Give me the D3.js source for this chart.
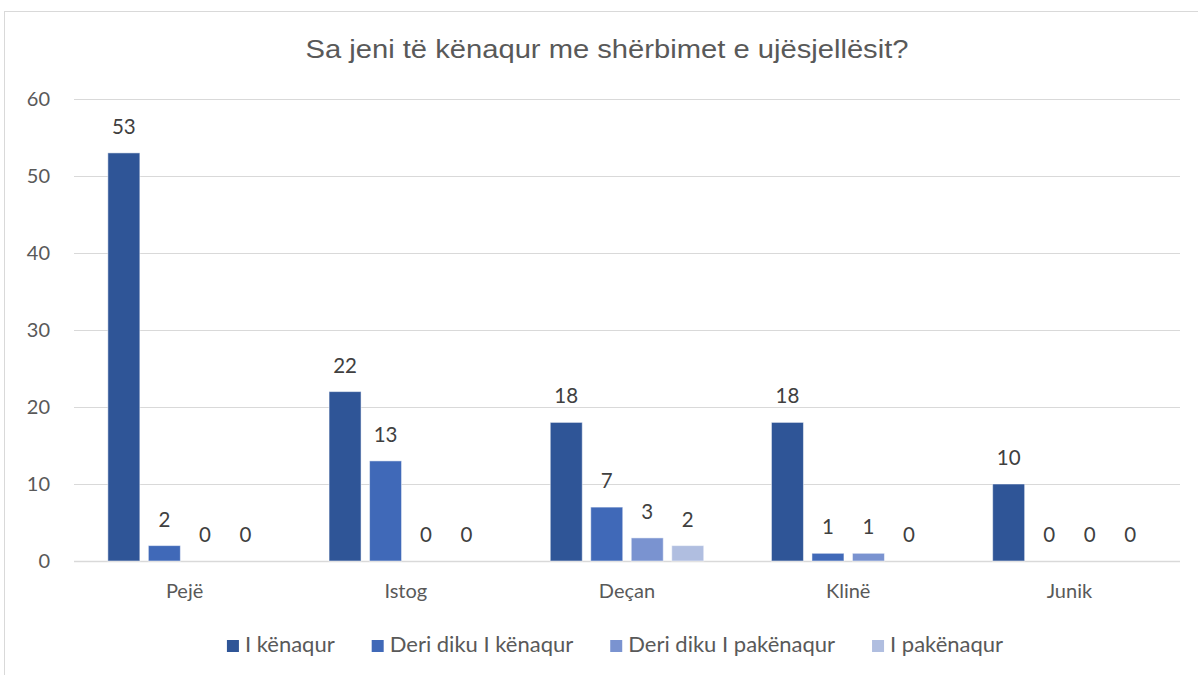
<!DOCTYPE html>
<html>
<head>
<meta charset="utf-8">
<script src="https://cdn.jsdelivr.net/npm/d3@7"></script>
<style>
  html, body { margin: 0; padding: 0; background: #fff; }
  svg { display: block; }
</style>
</head>
<body>
<svg id="chart" width="1198" height="675"></svg>
<script>
// Chart data
const title = 'Sa jeni të kënaqur me shërbimet e ujësjellësit?';
const cities = ['Pejë', 'Istog', 'Deçan', 'Klinë', 'Junik'];
const seriesNames = ['I kënaqur', 'Deri diku I kënaqur', 'Deri diku I pakënaqur', 'I pakënaqur'];
const satisfied = [53, 22, 18, 18, 10];
const somewhatSatisfied = [2, 13, 7, 1, 0];
const somewhatUnsatisfied = [0, 0, 3, 1, 0];
const unsatisfied = [0, 0, 2, 0, 0];
const yTicks = [0, 10, 20, 30, 40, 50, 60];
const colors = ['#2F5597', '#4069B8', '#7A93D0', '#B0BEE0'];

const seriesValues = [satisfied, somewhatSatisfied, somewhatUnsatisfied, unsatisfied];
const labelFont = 'Lato, "Open Sans", sans-serif';

const svg = d3.select('#chart');
const plot = { left: 74, right: 1180, top: 99, bottom: 561 };

// Chart area border
svg.append('rect')
  .attr('x', 4.5).attr('y', 11.5)
  .attr('width', 1300).attr('height', 800)
  .attr('fill', 'none')
  .attr('stroke', '#d9d9d9')
  .attr('stroke-width', 1);

// Title (stretched a bit to match the wide original)
svg.append('text')
  .attr('x', 607).attr('y', 58)
  .attr('text-anchor', 'middle')
  .attr('fill', '#595959')
  .attr('textLength', 603)
  .attr('lengthAdjust', 'spacingAndGlyphs')
  .style('font-family', '"Liberation Sans", Arial, sans-serif')
  .style('font-size', '26.5px')
  .text(title);

// Scales
const yScale = d3.scaleLinear()
  .domain([0, 60])
  .range([plot.bottom, plot.top]);

const x0 = d3.scaleBand()
  .domain(cities)
  .range([plot.left, plot.right])
  .padding(0);

const x1 = d3.scaleBand()
  .domain(d3.range(seriesNames.length))
  .range([0, x0.bandwidth()])
  .paddingInner(0.21)
  .paddingOuter(0.836);

// Gridlines
svg.append('g')
  .selectAll('line')
  .data(yTicks)
  .enter()
  .append('line')
    .attr('x1', plot.left)
    .attr('x2', plot.right)
    .attr('y1', (d) => Math.round(yScale(d)) + 0.5)
    .attr('y2', (d) => Math.round(yScale(d)) + 0.5)
    .attr('stroke', '#d9d9d9')
    .attr('stroke-width', (d) => d === 0 ? 1.5 : 1.2);

// Y axis labels
svg.append('g')
  .selectAll('text')
  .data(yTicks)
  .enter()
  .append('text')
    .attr('x', 50)
    .attr('y', (d) => yScale(d))
    .attr('dy', '0.36em')
    .attr('text-anchor', 'end')
    .attr('fill', '#595959')
    .style('font-family', labelFont)
    .style('font-size', '20px')
    .text((d) => d);

// X axis labels
svg.append('g')
  .selectAll('text')
  .data(cities)
  .enter()
  .append('text')
    .attr('x', (d) => x0(d) + x0.bandwidth() / 2)
    .attr('y', 598)
    .attr('text-anchor', 'middle')
    .attr('fill', '#595959')
    .style('font-family', labelFont)
    .style('font-size', '20px')
    .text((d) => d);

// Bars and data labels
const flat = [];
seriesValues.forEach((vals, s) => {
  vals.forEach((v, c) => flat.push({ s: s, city: cities[c], v: v }));
});

svg.append('g')
  .selectAll('rect')
  .data(flat.filter((d) => d.v > 0))
  .enter()
  .append('rect')
    .attr('x', (d) => x0(d.city) + x1(d.s))
    .attr('y', (d) => yScale(d.v))
    .attr('width', x1.bandwidth())
    .attr('height', (d) => yScale(0) - yScale(d.v))
    .attr('fill', (d) => colors[d.s])
    .attr('stroke', '#ffffff')
    .attr('stroke-opacity', 0.5)
    .attr('stroke-width', 1);

svg.append('g')
  .selectAll('text')
  .data(flat)
  .enter()
  .append('text')
    .attr('x', (d) => x0(d.city) + x1(d.s) + x1.bandwidth() / 2)
    .attr('y', (d) => yScale(d.v) - 19)
    .attr('text-anchor', 'middle')
    .attr('fill', '#404040')
    .style('font-family', labelFont)
    .style('font-size', '20.5px')
    .text((d) => d.v);

// Legend
const legend = svg.append('g');
const items = legend.selectAll('g')
  .data(seriesNames)
  .enter()
  .append('g');
items.append('rect')
  .attr('width', 12).attr('height', 12)
  .attr('y', 640)
  .attr('fill', (d, i) => colors[i]);
items.append('text')
  .attr('x', 18)
  .attr('y', 652)
  .attr('fill', '#595959')
  .style('font-family', labelFont)
  .style('font-size', '22px')
  .text((d) => d);

const gap = 37;
let offset = 0;
const positions = [];
items.each(function () {
  const w = d3.select(this).select('text').node().getComputedTextLength();
  positions.push(offset);
  offset += 18 + w + gap;
});
const totalW = offset - gap;
const startX = 615 - totalW / 2;
items.attr('transform', (d, i) => `translate(${startX + positions[i]}, 0)`);
</script>
</body>
</html>
